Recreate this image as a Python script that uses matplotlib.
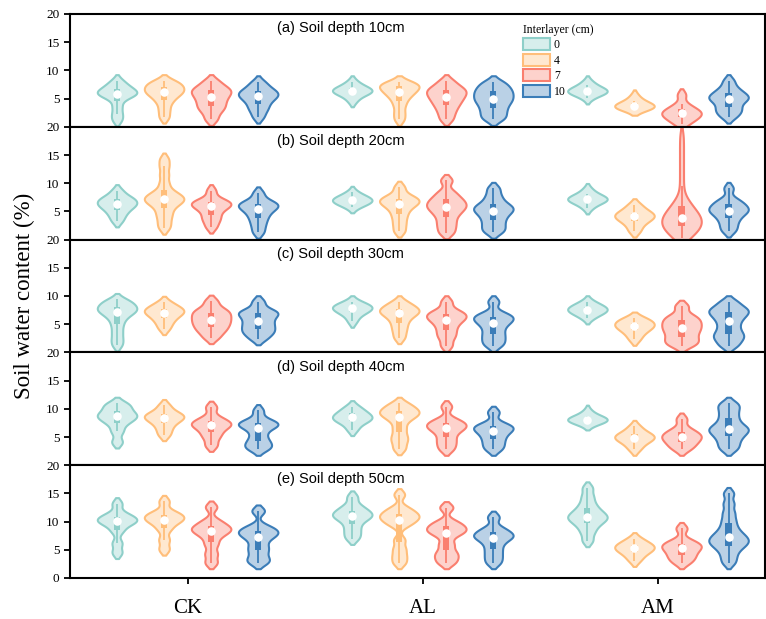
import numpy as np
import matplotlib.pyplot as plt
from matplotlib.colors import to_rgba
from matplotlib.patches import Patch

groups = ['CK', 'AL', 'AM']
layers = ['0', '4', '7', '10']
colors = ['#8ECFC9', '#FFBE7A', '#FA7F6F', '#3B7DB8']
depth_titles = ['(a) Soil depth 10cm', '(b) Soil depth 20cm', '(c) Soil depth 30cm',
                '(d) Soil depth 40cm', '(e) Soil depth 50cm']

# soil water content samples, order: CK0 CK4 CK7 CK10 AL0 AL4 AL7 AL10 AM0 AM4 AM7 AM10
depth_10 = [
    [1.2, 2.3, 3.6, 4.9, 5.5, 5.8, 6.0, 6.2, 6.5, 7.0, 7.4, 8.2],
    [1.7, 3.0, 4.2, 5.0, 5.6, 6.0, 6.3, 6.7, 7.0, 7.4, 7.8, 8.2],
    [1.3, 2.5, 3.3, 3.8, 4.5, 5.0, 5.6, 6.0, 6.4, 6.8, 7.3, 8.2],
    [1.7, 2.8, 3.5, 4.2, 4.8, 5.2, 5.6, 5.9, 6.2, 6.6, 7.2, 8.0],
    [4.6, 5.6, 6.0, 6.2, 6.4, 6.6, 6.8, 7.2, 8.0],
    [1.3, 2.5, 3.8, 4.8, 5.5, 6.0, 6.4, 6.8, 7.1, 7.4, 7.7, 8.0],
    [1.3, 2.4, 3.3, 4.0, 4.6, 5.1, 5.6, 6.0, 6.4, 6.8, 7.3, 8.2],
    [1.3, 2.0, 2.8, 3.5, 4.2, 4.7, 5.2, 5.7, 6.2, 6.7, 7.3, 8.0],
    [5.1, 5.8, 6.0, 6.2, 6.3, 6.4, 6.6, 6.8, 7.4, 8.0],
    [3.1, 3.3, 3.4, 3.6, 3.7, 3.9, 4.2, 4.6, 5.5],
    [0.5, 1.2, 1.6, 2.0, 2.3, 2.6, 2.9, 3.3, 4.0, 5.7],
    [1.7, 2.5, 3.0, 3.6, 4.3, 4.8, 5.1, 5.4, 5.8, 6.3, 7.0, 8.2],
]
depth_20 = [
    [3.3, 4.3, 5.0, 5.6, 6.0, 6.3, 6.6, 7.0, 7.3, 7.7, 8.7],
    [2.0, 3.0, 4.0, 4.8, 5.6, 6.2, 6.6, 6.9, 7.2, 7.5, 7.8, 8.2, 8.8, 10.0, 11.5, 13.0, 14.3],
    [2.2, 3.3, 4.0, 4.8, 5.5, 5.9, 6.2, 6.5, 6.8, 7.2, 8.7],
    [1.3, 2.5, 3.5, 4.3, 5.0, 5.5, 5.9, 6.2, 6.5, 7.0, 8.3],
    [5.8, 6.3, 6.6, 6.8, 7.0, 7.2, 7.4, 7.7, 8.4],
    [1.5, 2.8, 4.0, 5.0, 5.8, 6.3, 6.7, 7.0, 7.4, 7.9, 9.3],
    [1.2, 2.3, 3.3, 4.3, 5.0, 5.6, 6.0, 6.5, 7.0, 7.6, 8.5, 10.5],
    [1.3, 2.0, 2.8, 3.6, 4.3, 4.9, 5.3, 5.7, 6.1, 6.8, 7.8, 9.1],
    [5.6, 6.5, 6.8, 7.0, 7.2, 7.4, 7.6, 8.0, 8.9],
    [1.5, 2.6, 3.3, 3.8, 4.1, 4.4, 4.8, 5.3, 6.2],
    [0.3, 0.6, 0.9, 1.2, 1.5, 1.8, 2.0, 2.2, 2.4, 2.6, 2.8, 3.0, 3.2, 3.4, 3.6,
     3.8, 4.0, 4.2, 4.4, 4.6, 4.9, 5.2, 5.5, 5.9, 6.3, 6.8, 7.4,
     9.5, 11.7, 13.9, 16.1, 18.3],
    [1.5, 2.4, 3.3, 4.0, 4.6, 5.0, 5.3, 5.7, 6.1, 6.6, 7.2, 9.1],
]
depth_30 = [
    [1.3, 2.4, 3.6, 4.8, 5.8, 6.5, 7.0, 7.3, 7.6, 7.9, 8.2, 8.6, 9.0, 9.4],
    [4.2, 5.2, 5.9, 6.5, 6.9, 7.2, 7.5, 7.8, 8.2, 8.9],
    [2.6, 3.6, 4.2, 4.8, 5.3, 5.8, 6.3, 6.8, 7.3, 7.8, 9.1],
    [2.4, 3.3, 3.8, 4.4, 5.0, 5.6, 6.3, 6.8, 7.2, 7.5, 9.0],
    [5.5, 6.6, 7.1, 7.5, 7.8, 8.0, 8.2, 8.5, 9.0],
    [2.6, 3.8, 4.8, 5.7, 6.4, 6.9, 7.2, 7.5, 7.9, 8.3, 9.0],
    [1.2, 2.6, 3.5, 4.4, 5.2, 5.8, 6.2, 6.6, 7.0, 7.5, 9.0],
    [1.2, 2.0, 2.8, 3.6, 4.5, 5.2, 5.7, 6.1, 6.5, 7.0, 9.0],
    [6.1, 6.8, 7.1, 7.4, 7.6, 7.8, 8.1, 8.4, 9.0],
    [2.3, 3.3, 3.9, 4.4, 4.7, 5.0, 5.3, 5.8, 6.1],
    [1.2, 1.8, 2.4, 3.1, 3.8, 4.3, 4.9, 5.4, 6.0, 6.6, 8.2],
    [1.2, 2.2, 2.9, 3.6, 4.6, 5.6, 6.4, 7.0, 7.5, 8.0, 9.0],
]
depth_40 = [
    [4.1, 6.0, 7.3, 8.0, 8.5, 8.8, 9.2, 9.8, 10.5, 11.0],
    [5.4, 6.5, 7.4, 8.0, 8.4, 8.7, 9.0, 9.5, 10.6],
    [3.5, 4.9, 5.8, 6.6, 7.1, 7.4, 7.8, 8.5, 10.3],
    [2.8, 3.3, 3.9, 4.6, 5.6, 6.6, 7.0, 7.3, 7.6, 8.1, 9.7],
    [6.3, 7.4, 7.9, 8.2, 8.5, 8.8, 9.2, 9.7, 10.4],
    [2.9, 4.2, 5.2, 6.5, 7.8, 8.6, 9.0, 9.4, 9.8, 10.3, 11.0],
    [2.8, 3.8, 4.7, 5.7, 6.4, 6.8, 7.2, 7.6, 8.2, 10.4],
    [2.8, 3.7, 4.6, 5.4, 6.1, 6.5, 6.9, 7.4, 9.4],
    [7.3, 7.7, 7.9, 8.0, 8.1, 8.2, 8.4, 8.7, 9.6],
    [2.8, 3.7, 4.3, 4.7, 4.9, 5.2, 5.5, 6.0, 6.9],
    [2.8, 3.5, 4.1, 4.6, 5.0, 5.4, 5.8, 6.5, 8.2],
    [2.8, 3.7, 4.6, 5.3, 5.9, 6.3, 6.7, 7.3, 8.2, 9.2, 10.2, 11.0],
]
depth_50 = [
    [4.5, 6.2, 8.3, 9.4, 9.9, 10.2, 10.5, 10.9, 11.5, 13.2],
    [5.1, 6.8, 8.6, 9.6, 10.2, 10.5, 10.9, 11.3, 11.8, 13.6],
    [2.7, 4.3, 6.0, 7.3, 8.1, 8.5, 8.9, 9.4, 10.2, 12.6],
    [2.7, 3.5, 4.7, 5.7, 6.9, 7.6, 8.1, 8.5, 9.2, 11.9],
    [7.0, 8.0, 9.0, 10.0, 10.6, 11.0, 11.3, 11.7, 12.2, 12.9, 14.4],
    [2.7, 3.9, 5.2, 6.8, 9.3, 10.0, 10.5, 10.9, 11.3, 11.8, 12.5, 14.8],
    [2.7, 3.7, 4.6, 6.0, 7.6, 8.3, 8.7, 9.3, 10.0, 12.5],
    [2.7, 3.8, 4.9, 6.0, 6.9, 7.3, 7.7, 8.2, 8.9, 10.8],
    [6.6, 8.0, 9.0, 9.7, 10.2, 10.6, 10.9, 11.3, 11.8, 12.4, 13.3, 14.5, 16.0],
    [3.1, 4.0, 4.6, 5.0, 5.3, 5.6, 5.9, 6.3, 7.0],
    [2.7, 3.5, 4.1, 4.8, 5.3, 5.7, 6.1, 6.7, 8.8],
    [2.7, 3.8, 4.8, 5.5, 6.0, 6.4, 6.8, 7.2, 7.7, 8.3, 9.2, 10.3, 11.6, 13.2, 15.0],
]
all_depths = [depth_10, depth_20, depth_30, depth_40, depth_50]

bandwidth = 0.7
wide_bandwidth = {(1, 10): 1.3}  # AM 7cm at 20cm depth has a long thin tail

offsets = [-0.3, -0.1, 0.1, 0.3]
positions = [g + o for g in range(len(groups)) for o in offsets]
col_seq = colors * len(groups)


def kde_stats(vals, bw):
    v = np.asarray(vals, dtype=float)
    ext = 1.5 * bw
    coords = np.linspace(v.min() - ext, v.max() + ext, 300)
    dens = np.exp(-0.5 * ((coords[:, None] - v[None, :]) / bw) ** 2).sum(axis=1)
    return dict(coords=coords, vals=dens, mean=v.mean(), median=np.median(v),
                min=v.min(), max=v.max())


fig = plt.figure(figsize=(7.66, 6.19), dpi=100)
left, right = 70 / 766, 765 / 766
top, bottom = 1 - 14 / 619, 1 - 578 / 619
ph = (top - bottom) / 5

for k, data in enumerate(all_depths):
    ax = fig.add_axes([left, top - (k + 1) * ph, right - left, ph])
    stats = [kde_stats(d, wide_bandwidth.get((k, i), bandwidth)) for i, d in enumerate(data)]
    parts = ax.violin(stats, positions=positions, widths=0.168, showextrema=False)
    for body, c in zip(parts['bodies'], col_seq):
        body.set_alpha(None)
        body.set_facecolor(to_rgba(c, 0.35))
        body.set_edgecolor(c)
        body.set_linewidth(1.5)
    # inner box
    for x, vals, c in zip(positions, data, col_seq):
        v = np.array(vals)
        q1, med, q3 = np.percentile(v, [25, 50, 75])
        iqr = q3 - q1
        lo = v[v >= q1 - 1.5 * iqr].min()
        hi = v[v <= q3 + 1.5 * iqr].max()
        ax.vlines(x, lo, hi, color=c, lw=1.3, zorder=3)
        ax.bar(x, q3 - q1, bottom=q1, width=0.026, color=c, zorder=3)
        ax.scatter([x], [med], s=38, color='white', zorder=4, linewidths=0)

    ax.set_xlim(-0.5, 2.455)
    ax.set_ylim(0, 20)
    if k == 4:
        ax.set_yticks([0, 5, 10, 15, 20])
        ax.set_xticks(range(len(groups)))
        ax.set_xticklabels(groups, family='Liberation Serif', fontsize=15)
        ax.tick_params(axis='x', length=4, width=1.3, pad=11)
    else:
        ax.set_yticks([5, 10, 15, 20])
        ax.set_xticks([])
    ax.tick_params(axis='y', length=4, width=1.3, labelsize=9.5)
    for lab in ax.get_yticklabels():
        lab.set_family('Liberation Serif')
    for sp in ax.spines.values():
        sp.set_linewidth(1.5)
    ax.text(0.298, 0.875, depth_titles[k], transform=ax.transAxes,
            family='Liberation Sans', fontsize=10.5, va='center', ha='left')
    if k == 0:
        handles = [Patch(facecolor=to_rgba(c, 0.35), edgecolor=c, linewidth=1.5, label=l)
                   for c, l in zip(colors, layers)]
        leg = ax.legend(handles=handles, title='Interlayer (cm)', loc='upper left',
                        bbox_to_anchor=(0.64, 0.985), frameon=False,
                        prop={'family': 'Liberation Serif', 'size': 8.5},
                        handlelength=2.3, handleheight=1.2, labelspacing=0.2,
                        handletextpad=0.3, borderpad=0.2)
        leg.get_title().set_family('Liberation Serif')
        leg.get_title().set_fontsize(8.5)
        leg._legend_box.align = 'left'

fig.text(0.032, (top + bottom) / 2, 'Soil water content (%)', rotation=90,
         family='Liberation Serif', fontsize=16.5, va='center', ha='center')

fig.savefig('out.png', dpi=100)
